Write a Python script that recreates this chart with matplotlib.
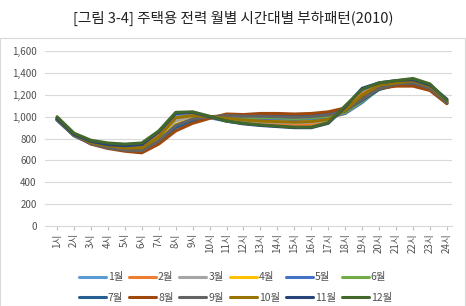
import matplotlib
matplotlib.use("Agg")
import matplotlib.pyplot as plt
from matplotlib.patches import Rectangle

plt.rcParams['font.family'] = ['Noto Sans CJK KR', 'DejaVu Sans']

hours = [f"{h}시" for h in range(1, 25)]
months = [f"{m}월" for m in range(1, 13)]
colors = ['#5B9BD5', '#ED7D31', '#A5A5A5', '#FFC000', '#4472C4', '#70AD47',
          '#255E91', '#9E480E', '#636363', '#997300', '#264478', '#43682B']

m01 = [990, 840, 780, 750, 740, 750, 850, 1010, 1020, 990, 960, 940, 930, 920, 910, 910, 950, 1080, 1230, 1300, 1320, 1320, 1270, 1150]
m02 = [985, 835, 770, 740, 725, 730, 830, 990, 1010, 995, 970, 955, 945, 935, 925, 930, 960, 1070, 1210, 1290, 1310, 1310, 1260, 1140]
m03 = [980, 830, 765, 735, 715, 715, 810, 960, 1000, 1000, 980, 965, 955, 950, 945, 950, 970, 1050, 1180, 1280, 1300, 1300, 1250, 1130]
m04 = [975, 830, 760, 725, 705, 700, 790, 930, 980, 1000, 990, 980, 975, 970, 965, 970, 990, 1030, 1150, 1270, 1300, 1310, 1250, 1130]
m05 = [970, 825, 755, 720, 700, 695, 780, 910, 970, 1000, 995, 990, 985, 980, 975, 980, 995, 1030, 1130, 1260, 1300, 1310, 1260, 1130]
m06 = [975, 830, 760, 725, 705, 700, 785, 920, 975, 1000, 1000, 995, 995, 990, 985, 990, 1005, 1040, 1140, 1250, 1290, 1300, 1250, 1120]
m07 = [970, 830, 760, 720, 700, 690, 770, 900, 960, 995, 1010, 1010, 1015, 1015, 1010, 1015, 1030, 1060, 1150, 1250, 1290, 1300, 1250, 1130]
m08 = [980, 835, 750, 710, 685, 670, 750, 870, 940, 985, 1025, 1020, 1030, 1030, 1025, 1030, 1045, 1080, 1170, 1260, 1280, 1280, 1240, 1120]
m09 = [975, 830, 755, 715, 695, 690, 780, 920, 980, 1000, 1010, 1005, 1005, 1000, 995, 1000, 1015, 1050, 1160, 1260, 1300, 1310, 1260, 1130]
m10 = [980, 835, 765, 735, 715, 715, 815, 990, 1010, 1000, 985, 970, 960, 955, 950, 955, 975, 1060, 1200, 1290, 1310, 1330, 1280, 1150]
m11 = [985, 840, 775, 745, 735, 745, 860, 1030, 1040, 1000, 960, 935, 920, 910, 900, 900, 940, 1090, 1260, 1310, 1330, 1340, 1290, 1160]
m12 = [1000, 850, 785, 760, 750, 760, 870, 1040, 1045, 1005, 960, 940, 925, 915, 905, 905, 945, 1100, 1250, 1310, 1330, 1350, 1300, 1150]
series = [m01, m02, m03, m04, m05, m06, m07, m08, m09, m10, m11, m12]

fig = plt.figure(figsize=(4.66, 3.06), dpi=100)
fig.patches.append(Rectangle((0.0, 0.0), 0.997, 1 - 38/306, transform=fig.transFigure,
                             fill=False, edgecolor='#D9D9D9', linewidth=0.8))
ax = fig.add_axes([45/466, 0.261, 407/466, 0.572])

x = list(range(len(hours)))
lines = []
for s, c, lab in zip(series, colors, months):
    ln, = ax.plot(x, s, color=c, linewidth=2.2, label=lab, solid_capstyle='round')
    lines.append(ln)

ax.set_ylim(0, 1600)
ax.set_yticks(range(0, 1601, 200))
ax.set_yticklabels([f"{v:,}" for v in range(0, 1601, 200)])
ax.set_xlim(-0.71, 23.3)
ax.set_xticks(x)
ax.set_xticklabels(hours, rotation=90)
ax.grid(axis='y', color='#D9D9D9', linewidth=0.8)
ax.set_axisbelow(True)
for sp in ['top', 'right', 'left']:
    ax.spines[sp].set_visible(False)
ax.spines['bottom'].set_color('#D9D9D9')
ax.tick_params(axis='y', length=0, labelsize=7, labelcolor='#505050', pad=6)
ax.tick_params(axis='x', length=3, color='#BFBFBF', labelsize=7, labelcolor='#505050', pad=2)

fig.text(0.5, 0.94, "[그림 3-4] 주택용 전력 월별 시간대별 부하패턴(2010)", ha='center', va='center',
         fontsize=10.5, color='#222222')

# reorder so rows read 1..6 then 7..12
order = []
for i in range(6):
    order += [i, i + 6]
leg = fig.legend([lines[i] for i in order], [months[i] for i in order],
                 loc='center', bbox_to_anchor=(0.505, 0.06), ncol=6, frameon=False,
                 fontsize=7.5, handlelength=2.6, handletextpad=0.2, columnspacing=0.55,
                 labelspacing=1.0)
for t in leg.get_texts():
    t.set_color('#505050')

fig.savefig("out.png", dpi=100)
